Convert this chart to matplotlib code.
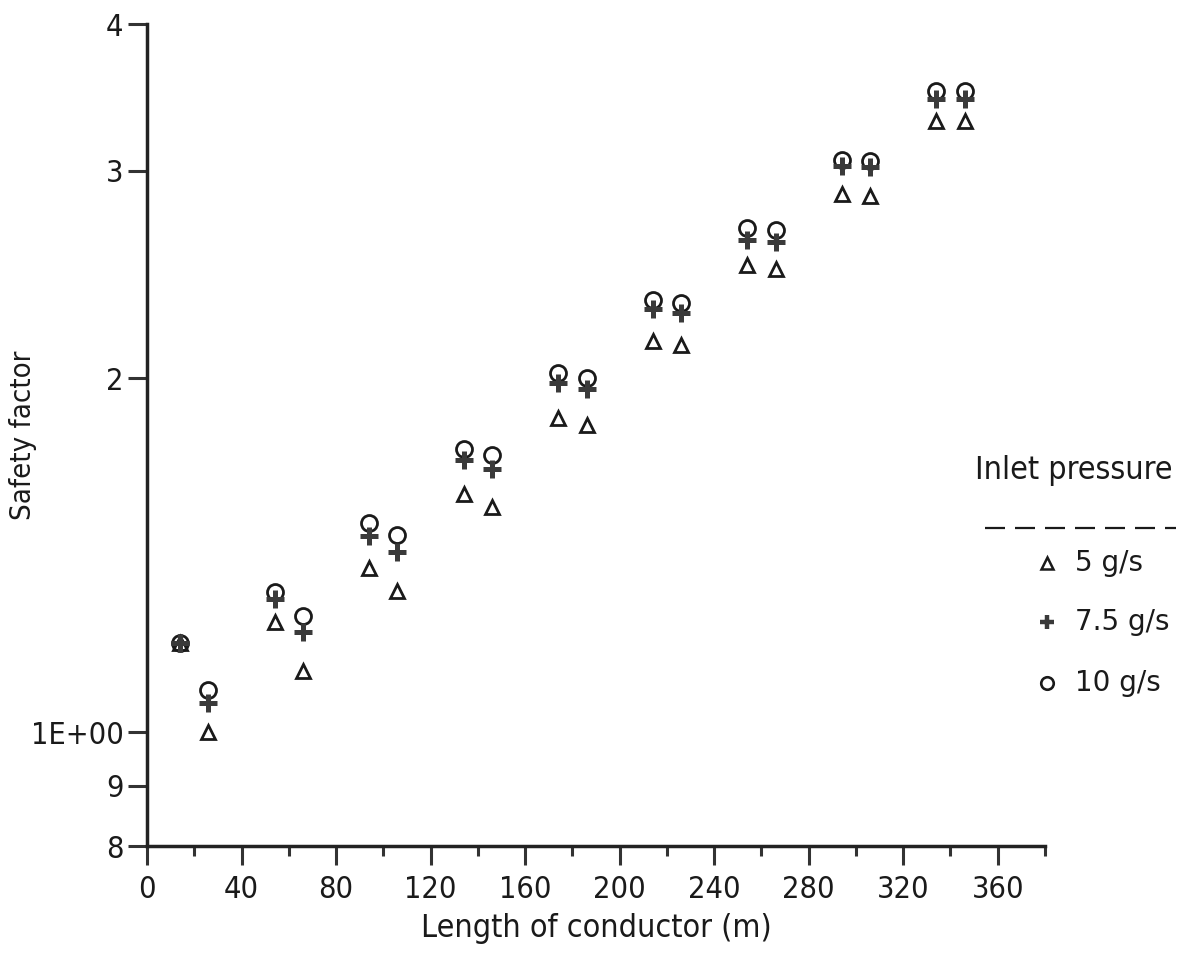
import matplotlib
matplotlib.use("Agg")
import matplotlib.pyplot as plt
from matplotlib import font_manager
from matplotlib.lines import Line2D
import numpy as np

# ---- data ----
length_m = [14, 26, 54, 66, 94, 106, 134, 146, 174, 186, 214, 226, 254, 266, 294, 306, 334, 346]
sf_5gs   = [1.19, 1.00, 1.240, 1.127, 1.379, 1.318, 1.594, 1.554, 1.850, 1.825,
            2.151, 2.134, 2.493, 2.474, 2.870, 2.859, 3.305, 3.305]
sf_75gs  = [1.19, 1.058, 1.298, 1.216, 1.468, 1.423, 1.704, 1.674, 1.982, 1.958,
            2.291, 2.273, 2.623, 2.612, 3.031, 3.021, 3.457, 3.457]
sf_10gs  = [1.19, 1.086, 1.316, 1.255, 1.506, 1.471, 1.741, 1.721, 2.021, 2.001,
            2.332, 2.318, 2.685, 2.674, 3.062, 3.056, 3.505, 3.505]
series_labels = ["5 g/s", "7.5 g/s", "10 g/s"]
y_ticks = [0.8, 0.9, 1.0, 2.0, 3.0, 4.0]
y_ticklabels = ["8", "9", "1E+00", "2", "3", "4"]
x_major = [0, 40, 80, 120, 160, 200, 240, 280, 320, 360]
x_minor = [20, 60, 100, 140, 180, 220, 260, 300, 340, 380]

# ---- fonts ----
names = {f.name for f in font_manager.fontManager.ttflist}
narrow = "Liberation Sans Narrow" if "Liberation Sans Narrow" in names else "DejaVu Sans"
narrow_kw = {"family": narrow}
if narrow == "DejaVu Sans":
    narrow_kw["stretch"] = "condensed"
regular = "DejaVu Sans"

W, H = 1189, 956
fig = plt.figure(figsize=(W / 100, H / 100), dpi=100)
ax = fig.add_axes([147 / W, 1 - 846 / H, (1045 - 147) / W, (846 - 24) / H])

ink = "#1a1a1a"
ax.plot(length_m, sf_10gs, linestyle="none", marker="o", ms=11.5, mfc="none",
        mec=ink, mew=2.0, zorder=3)
ax.plot(length_m, sf_75gs, linestyle="none", marker="+", ms=12.5, mec="#3a3a3a",
        mew=3.6, zorder=4)
ax.plot(length_m, sf_5gs, linestyle="none", marker="^", ms=10, mfc="none",
        mec=ink, mew=2.0, zorder=3)

ax.set_yscale("log")
ax.set_ylim(0.8, 4.0)
ax.set_xlim(0, 380)
ax.set_yticks(y_ticks)
ax.set_yticklabels(y_ticklabels)
ax.yaxis.set_minor_locator(matplotlib.ticker.NullLocator())
ax.set_xticks(x_major)
ax.set_xticks(x_minor, minor=True)

for s in ["top", "right"]:
    ax.spines[s].set_visible(False)
for s in ["left", "bottom"]:
    ax.spines[s].set_linewidth(2.5)
    ax.spines[s].set_color("#222222")

ax.tick_params(axis="y", which="major", direction="out", length=14, width=2.2,
               color="#333333", pad=3, labelsize=22)
ax.tick_params(axis="x", which="major", direction="out", length=14, width=2.2,
               color="#333333", pad=7, labelsize=22)
ax.tick_params(axis="x", which="minor", direction="out", length=7, width=2.2,
               color="#333333")
for lab in ax.get_xticklabels() + ax.get_yticklabels():
    lab.set_fontfamily(narrow)
    if "stretch" in narrow_kw:
        lab.set_fontstretch("condensed")
    lab.set_color(ink)

ax.set_xlabel("Length of conductor (m)", fontsize=23, color=ink, **narrow_kw)
ax.xaxis.set_label_coords(0.5, -0.082)
ax.set_ylabel("Safety factor", fontsize=21, color=ink, **narrow_kw)
ax.yaxis.set_label_coords(-0.123, 0.5)

# ---- legend (manual) ----
def fx(px):
    return px / W

def fy(py):
    return 1 - py / H

fig.text(fx(975), fy(470), "Inlet pressure", fontsize=23, color=ink,
         va="center", ha="left", **narrow_kw)
fig.add_artist(Line2D([fx(985), fx(1176)], [fy(528), fy(528)], transform=fig.transFigure,
                      color=ink, lw=1.6, linestyle=(0, (9, 4.5))))
leg_styles = [
    dict(marker="^", ms=8, mfc="none", mec=ink, mew=1.8),
    dict(marker="+", ms=10, mec="#3a3a3a", mew=3.2),
    dict(marker="o", ms=9, mfc="none", mec=ink, mew=1.9),
]
leg_y = [563, 622, 683]
for lab, st, py in zip(series_labels, leg_styles, leg_y):
    fig.add_artist(Line2D([fx(1047)], [fy(py)], transform=fig.transFigure,
                          linestyle="none", **st))
    fig.text(fx(1075), fy(py), lab, fontsize=20, color=ink, va="center", ha="left",
             family=regular)

fig.savefig("out.png", dpi=100, facecolor="white")
